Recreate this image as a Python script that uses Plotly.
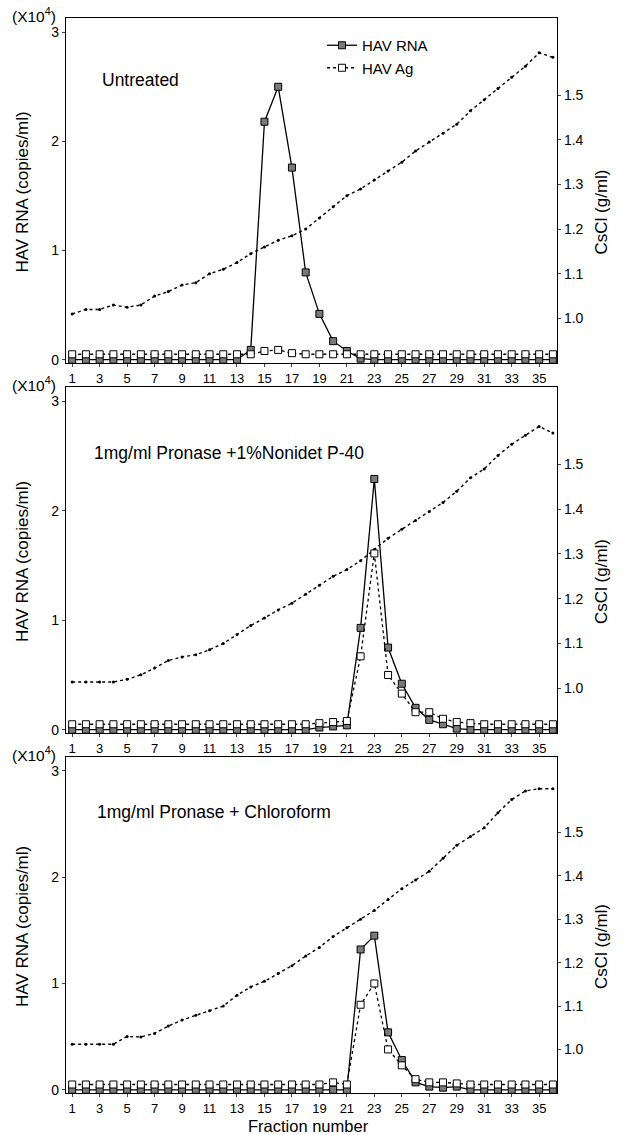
import plotly.graph_objects as go

# ---------------- data ----------------
fractions = list(range(1, 37))
x_tick_vals = [1, 3, 5, 7, 9, 11, 13, 15, 17, 19, 21, 23, 25, 27, 29, 31, 33, 35]
left_tick_vals = [0, 1, 2, 3]
right_tick_vals = [1.0, 1.1, 1.2, 1.3, 1.4, 1.5]
panel_labels = ["Untreated", "1mg/ml Pronase +1%Nonidet P-40", "1mg/ml Pronase + Chloroform"]

rna_untreated = [0, 0, 0, 0, 0, 0, 0, 0, 0, 0, 0, 0, 0,
                 0.09, 2.18, 2.5, 1.76, 0.8, 0.42, 0.17, 0.08, 0.01,
                 0, 0, 0, 0, 0, 0, 0, 0, 0, 0, 0, 0, 0, 0]
ag_untreated = [0.05, 0.05, 0.05, 0.05, 0.05, 0.05, 0.05, 0.05, 0.05, 0.05, 0.05, 0.05, 0.05, 0.05,
                0.08, 0.09, 0.06,
                0.05, 0.05, 0.05, 0.05, 0.05, 0.05, 0.05, 0.05, 0.05, 0.05, 0.05, 0.05, 0.05,
                0.05, 0.05, 0.05, 0.05, 0.05, 0.05]
cscl_untreated = [1.01, 1.02, 1.02, 1.03, 1.025, 1.03, 1.05, 1.06, 1.075, 1.08, 1.10, 1.11,
                  1.125, 1.145, 1.16, 1.175, 1.185, 1.20, 1.225, 1.25, 1.275, 1.29, 1.31, 1.33,
                  1.35, 1.375, 1.395, 1.415, 1.435, 1.465, 1.49, 1.515, 1.54, 1.565, 1.595, 1.585]

rna_np40 = [0, 0, 0, 0, 0, 0, 0, 0, 0, 0, 0, 0, 0, 0, 0, 0, 0, 0,
            0.02, 0.03, 0.04, 0.93, 2.29, 0.75, 0.42, 0.2, 0.09, 0.05, 0.01,
            0, 0, 0, 0, 0, 0, 0]
ag_np40 = [0.05, 0.05, 0.05, 0.05, 0.05, 0.05, 0.05, 0.05, 0.05, 0.05, 0.05, 0.05, 0.05, 0.05,
           0.05, 0.05, 0.05, 0.05,
           0.06, 0.07, 0.08, 0.67, 1.61, 0.5, 0.33, 0.16, 0.16, 0.1, 0.07, 0.06,
           0.05, 0.05, 0.05, 0.05, 0.05, 0.05]
cscl_np40 = [1.014, 1.014, 1.014, 1.014, 1.02, 1.03, 1.045, 1.062, 1.07, 1.075, 1.086, 1.10,
             1.12, 1.14, 1.157, 1.175, 1.19, 1.21, 1.23, 1.25, 1.265, 1.285, 1.31, 1.335,
             1.355, 1.375, 1.395, 1.415, 1.44, 1.47, 1.49, 1.52, 1.545, 1.565, 1.585, 1.57]

rna_chcl3 = [0, 0, 0, 0, 0, 0, 0, 0, 0, 0, 0, 0, 0, 0, 0, 0, 0, 0, 0, 0, 0,
             1.32, 1.45, 0.54, 0.28, 0.07, 0.03, 0.02, 0.03,
             0, 0, 0, 0, 0, 0, 0]
ag_chcl3 = [0.05, 0.05, 0.05, 0.05, 0.05, 0.05, 0.05, 0.05, 0.05, 0.05, 0.05, 0.05, 0.05, 0.05,
            0.05, 0.05, 0.05, 0.05, 0.05,
            0.07, 0.05, 0.8, 1.0, 0.38, 0.23, 0.1, 0.07, 0.07, 0.06,
            0.05, 0.05, 0.05, 0.05, 0.05, 0.05, 0.05]
cscl_chcl3 = [1.012, 1.012, 1.012, 1.012, 1.03, 1.029, 1.037, 1.054, 1.068, 1.079, 1.089, 1.10,
              1.125, 1.144, 1.157, 1.175, 1.193, 1.215, 1.235, 1.26, 1.28, 1.30, 1.32, 1.345,
              1.37, 1.39, 1.41, 1.44, 1.47, 1.49, 1.51, 1.545, 1.575, 1.595, 1.60, 1.60]

panels = [
    (panel_labels[0], rna_untreated, ag_untreated, cscl_untreated),
    (panel_labels[1], rna_np40, ag_np40, cscl_np40),
    (panel_labels[2], rna_chcl3, ag_chcl3, cscl_chcl3),
]

# ---------------- layout geometry ----------------
W, H = 626, 1135
x_left_px, x_right_px = 66, 557
panel_px = [(18, 363), (387, 733), (757, 1093)]
label_y_px = [80, 453, 812]
label_x_px = [100, 92, 95]
FONT = "Liberation Sans, Arial, sans-serif"


def py(v):
    return 1 - v / H


def px(v):
    return v / W


fig = go.Figure()
layout = dict(
    width=W, height=H,
    margin=dict(l=0, r=0, t=0, b=0),
    paper_bgcolor="white", plot_bgcolor="white",
    font=dict(family=FONT, color="black", size=14),
    showlegend=True,
    legend=dict(x=px(322), y=py(29), xanchor="left", yanchor="top",
                font=dict(size=15, family=FONT), bgcolor="rgba(0,0,0,0)",
                borderwidth=0, tracegroupgap=0, itemwidth=30),
)
annotations = []

for i, (label, rna, ag, cscl) in enumerate(panels):
    n = i + 1
    top, bot = panel_px[i]
    xname = "xaxis" if n == 1 else f"xaxis{n}"
    xref = "x" if n == 1 else f"x{n}"
    base_idx = 2 * n - 1  # CsCl (right side, base)
    over_idx = 2 * n      # RNA (left side, overlay)
    base_name = "yaxis" if base_idx == 1 else f"yaxis{base_idx}"
    base_ref = "y" if base_idx == 1 else f"y{base_idx}"
    over_name = f"yaxis{over_idx}"
    over_ref = f"y{over_idx}"
    dom = [py(bot), py(top)]

    layout[xname] = dict(
        domain=[px(x_left_px), px(x_right_px)], anchor=base_ref,
        range=[0.55, 36.3], tickvals=x_tick_vals, ticks="outside", ticklen=3,
        tickfont=dict(size=13), showline=True, linecolor="black", linewidth=1.2,
        mirror=True, showgrid=False, zeroline=False, automargin=False,
    )
    layout[base_name] = dict(
        domain=dom, anchor=xref, side="right", range=[0.9, 1.673],
        tickvals=right_tick_vals, tickformat=".1f", ticks="outside", ticklen=3,
        tickfont=dict(size=14), showline=True, linecolor="black", linewidth=1.2,
        showgrid=False, zeroline=False, automargin=False,
    )
    layout[over_name] = dict(
        overlaying=base_ref, anchor=xref, side="left", range=[-0.03, 3.13],
        tickvals=left_tick_vals, ticks="outside", ticklen=3,
        tickfont=dict(size=14), showline=True, linecolor="black", linewidth=1.2,
        showgrid=False, zeroline=False, automargin=False,
    )

    fig.add_trace(go.Scatter(
        x=fractions, y=cscl, xaxis=xref, yaxis=base_ref, mode="lines+markers",
        line=dict(color="black", width=1.4, dash="dot"),
        marker=dict(size=3, color="black"), showlegend=False, name="CsCl",
    ))
    fig.add_trace(go.Scatter(
        x=fractions, y=rna, xaxis=xref, yaxis=over_ref, mode="lines+markers",
        line=dict(color="black", width=1.3),
        marker=dict(symbol="square", size=7, color="#7a7a7a",
                    line=dict(color="black", width=1)),
        name="HAV RNA", showlegend=(n == 1), cliponaxis=False,
    ))
    fig.add_trace(go.Scatter(
        x=fractions, y=ag, xaxis=xref, yaxis=over_ref, mode="lines+markers",
        line=dict(color="black", width=1.3, dash="dot"),
        marker=dict(symbol="square", size=7, color="white",
                    line=dict(color="black", width=1)),
        name="HAV Ag", showlegend=(n == 1), cliponaxis=False,
    ))

    mid = (top + bot) / 2
    annotations.append(dict(
        text="(X10<sup>4</sup>)", x=px(10), y=py(top - 3), xref="paper", yref="paper",
        xanchor="left", yanchor="middle", showarrow=False, font=dict(size=15.5),
    ))
    annotations.append(dict(
        text="HAV RNA (copies/ml)", x=px(22), y=py(mid + 2), xref="paper", yref="paper",
        xanchor="center", yanchor="middle", textangle=-90, showarrow=False,
        font=dict(size=17),
    ))
    annotations.append(dict(
        text="CsCl (g/ml)", x=px(601), y=py(mid + 22), xref="paper", yref="paper",
        xanchor="center", yanchor="middle", textangle=-90, showarrow=False,
        font=dict(size=17),
    ))
    annotations.append(dict(
        text=label, x=px(label_x_px[i]), y=py(label_y_px[i]), xref="paper", yref="paper",
        xanchor="left", yanchor="middle", showarrow=False, font=dict(size=17.5),
    ))

annotations.append(dict(
    text="Fraction number", x=px(308), y=py(1126), xref="paper", yref="paper",
    xanchor="center", yanchor="middle", showarrow=False, font=dict(size=16.5),
))
layout["annotations"] = annotations
fig.update_layout(**layout)
fig.write_html("out.html", config={"displayModeBar": False},
               post_script="document.body.style.margin='0';document.body.style.padding='0';")
